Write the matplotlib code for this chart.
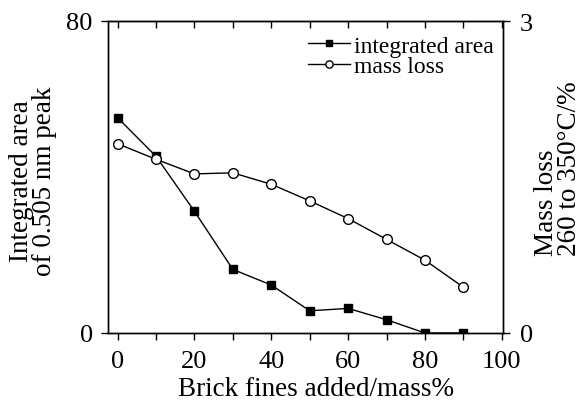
import matplotlib
matplotlib.use("Agg")
import matplotlib.pyplot as plt

plt.rcParams['font.family'] = ['Liberation Serif', 'DejaVu Serif']
plt.rcParams['font.size'] = 19.5

brick = [0, 10, 20, 30, 40, 50, 60, 70, 80, 90]
area = [55.2, 45.3, 31.2, 16.3, 12.3, 5.7, 6.3, 3.4, 0.0, 0.0]
mass_loss = [1.82, 1.67, 1.53, 1.54, 1.43, 1.27, 1.10, 0.90, 0.70, 0.44]

fig = plt.figure(figsize=(5.83, 4.02), dpi=100)
ax = fig.add_axes([108/583, 1-334/402, 395/583, 312/402])
ax2 = ax.twinx()

l1, = ax.plot(brick, area, color='black', lw=1, marker='s', ms=6,
              mfc='black', mec='black', label='integrated area')
l2, = ax2.plot(brick, mass_loss, color='black', lw=1, marker='o', ms=7,
               mfc='white', mec='black', label='mass loss')

ax.set_xlim(-2.5, 100.3)
ax.set_ylim(0, 80)
ax2.set_ylim(0, 3)
ax.set_xticks([0, 20, 40, 60, 80, 100])
ax.set_xticks([10, 30, 50, 70, 90], minor=True)
ax.set_yticks([0, 80])
ax2.set_yticks([0, 3])

ax.tick_params(axis='x', which='both', direction='out', length=5, width=1,
               top=False, pad=7.5, labelsize=19)
ax.tick_params(axis='y', direction='out', length=5, width=1, pad=6, labelsize=19)
ax2.tick_params(axis='y', direction='out', length=5, width=1, pad=7, labelsize=19)
# inward ticks along the top edge
top = ax.secondary_xaxis('top')
top.set_xticks([0, 10, 20, 30, 40, 50, 60, 70, 80, 90, 100])
top.tick_params(direction='in', length=5, width=1, labeltop=False)

for a in (ax, ax2):
    for s in a.spines.values():
        s.set_linewidth(1)

ax.set_xlabel('Brick fines added/mass%')
ax.xaxis.set_label_coords(0.527, -0.138)
ax.set_ylabel('Integrated area\nof 0.505 nm peak', linespacing=0.92)
ax.yaxis.set_label_coords(-0.129, 0.49)
ax2.set_ylabel('Mass loss\n260 to 350°C/%', rotation=90, linespacing=0.92,
               multialignment='left')
ax2.yaxis.set_label_coords(1.078, 0.53)

ax.legend([l1, l2], ['integrated area', 'mass loss'], loc='upper right',
          bbox_to_anchor=(1.0, 0.985), frameon=False, fontsize=17,
          handlelength=1.8, handletextpad=0.15, markerscale=0.75,
          borderaxespad=0.2, labelspacing=-0.05, borderpad=0.2)

plt.savefig('out.png', dpi=100)
